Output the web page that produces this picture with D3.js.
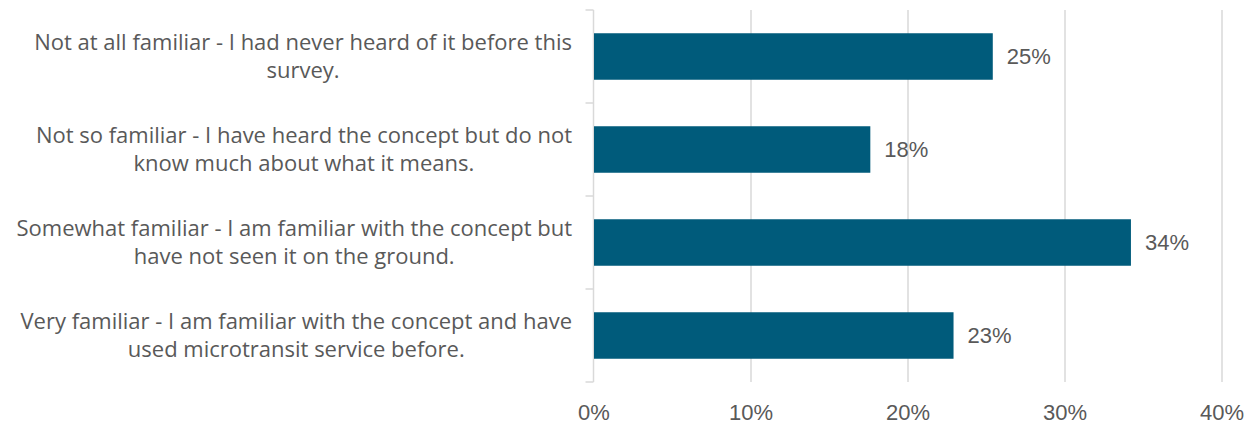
<!DOCTYPE html>
<html>
<head>
<meta charset="utf-8">
<script src="https://cdn.jsdelivr.net/npm/d3@7"></script>
<style>
  body { margin: 0; background: #fff; }
  text { font-family: "Liberation Sans", Arial, sans-serif; fill: #595959; }
</style>
</head>
<body>
<div id="chart"></div>
<script>
// Chart data
const categories = [
    ['Not at all familiar - I had never heard of it before this', 'survey.'],
    ['Not so familiar - I have heard the concept but do not', 'know much about what it means.'],
    ['Somewhat familiar - I am familiar with the concept but', 'have not seen it on the ground.'],
    ['Very familiar - I am familiar with the concept and have', 'used microtransit service before.']
];
const values = [0.254, 0.176, 0.342, 0.229];
const ticks = [0, 0.1, 0.2, 0.3, 0.4];

const width = 1251;
const height = 426;
const margin = { top: 10, right: 29, bottom: 44, left: 594 };

const svg = d3.select('#chart')
    .append('svg')
    .attr('width', width)
    .attr('height', height);

const x = d3.scaleLinear()
    .domain([0, 0.4])
    .range([margin.left, width - margin.right]);

const y = d3.scaleBand()
    .domain(d3.range(categories.length))
    .range([margin.top, height - margin.bottom])
    .paddingInner(0.5)
    .paddingOuter(0.25);

// Gridlines
svg.append('g')
    .selectAll('line')
    .data(ticks.slice(1))
    .enter()
    .append('line')
    .attr('x1', d => x(d))
    .attr('x2', d => x(d))
    .attr('y1', margin.top)
    .attr('y2', height - margin.bottom)
    .style('stroke', '#d9d9d9')
    .style('stroke-width', 1.5);

// Left axis line with tick marks between categories
const axisX = x(0) - 0.5;
svg.append('line')
    .attr('x1', axisX).attr('x2', axisX)
    .attr('y1', margin.top).attr('y2', height - margin.bottom)
    .style('stroke', '#d9d9d9')
    .style('stroke-width', 1.5);

const step = y.step();
const boundaries = d3.range(categories.length + 1).map(i => margin.top + i * step);
svg.append('g')
    .selectAll('line')
    .data(boundaries)
    .enter()
    .append('line')
    .attr('x1', axisX - 8)
    .attr('x2', axisX)
    .attr('y1', d => d)
    .attr('y2', d => d)
    .style('stroke', '#d9d9d9')
    .style('stroke-width', 1.5);

// Bars
svg.append('g')
    .selectAll('rect')
    .data(values)
    .enter()
    .append('rect')
    .attr('x', x(0))
    .attr('y', (d, i) => y(i))
    .attr('width', d => x(d) - x(0))
    .attr('height', y.bandwidth())
    .style('fill', '#005b7b');

// Data labels
svg.append('g')
    .selectAll('text')
    .data(values)
    .enter()
    .append('text')
    .attr('x', d => x(d) + 14)
    .attr('y', (d, i) => y(i) + y.bandwidth() / 2)
    .attr('dy', '0.35em')
    .style('font-size', '22px')
    .text(d => d3.format('.0%')(d));

// Category labels (two lines each)
const labels = svg.append('g')
    .selectAll('text')
    .data(categories)
    .enter()
    .append('text')
    .attr('text-anchor', 'end')
    .attr('y', (d, i) => y(i) + y.bandwidth() / 2)
    .style('font-family', '"Open Sans", sans-serif')
    .style('font-size', '22px');

labels.selectAll('tspan')
    .data(d => d)
    .enter()
    .append('tspan')
    .attr('x', 572)
    .attr('dy', (d, i) => i === 0 ? -6.5 : 28)
    .text(d => d);

// center second lines under the first
labels.each(function() {
    const spans = d3.select(this).selectAll('tspan').nodes();
    const w0 = spans[0].getComputedTextLength();
    const w1 = spans[1].getComputedTextLength();
    d3.select(spans[1]).attr('x', 572 - (w0 - w1) / 2);
});

// Bottom tick labels
svg.append('g')
    .selectAll('text')
    .data(ticks)
    .enter()
    .append('text')
    .attr('x', d => x(d))
    .attr('y', 412)
    .attr('dy', '0.35em')
    .attr('text-anchor', 'middle')
    .style('font-size', '22px')
    .text(d => d3.format('.0%')(d));
</script>
</body>
</html>
